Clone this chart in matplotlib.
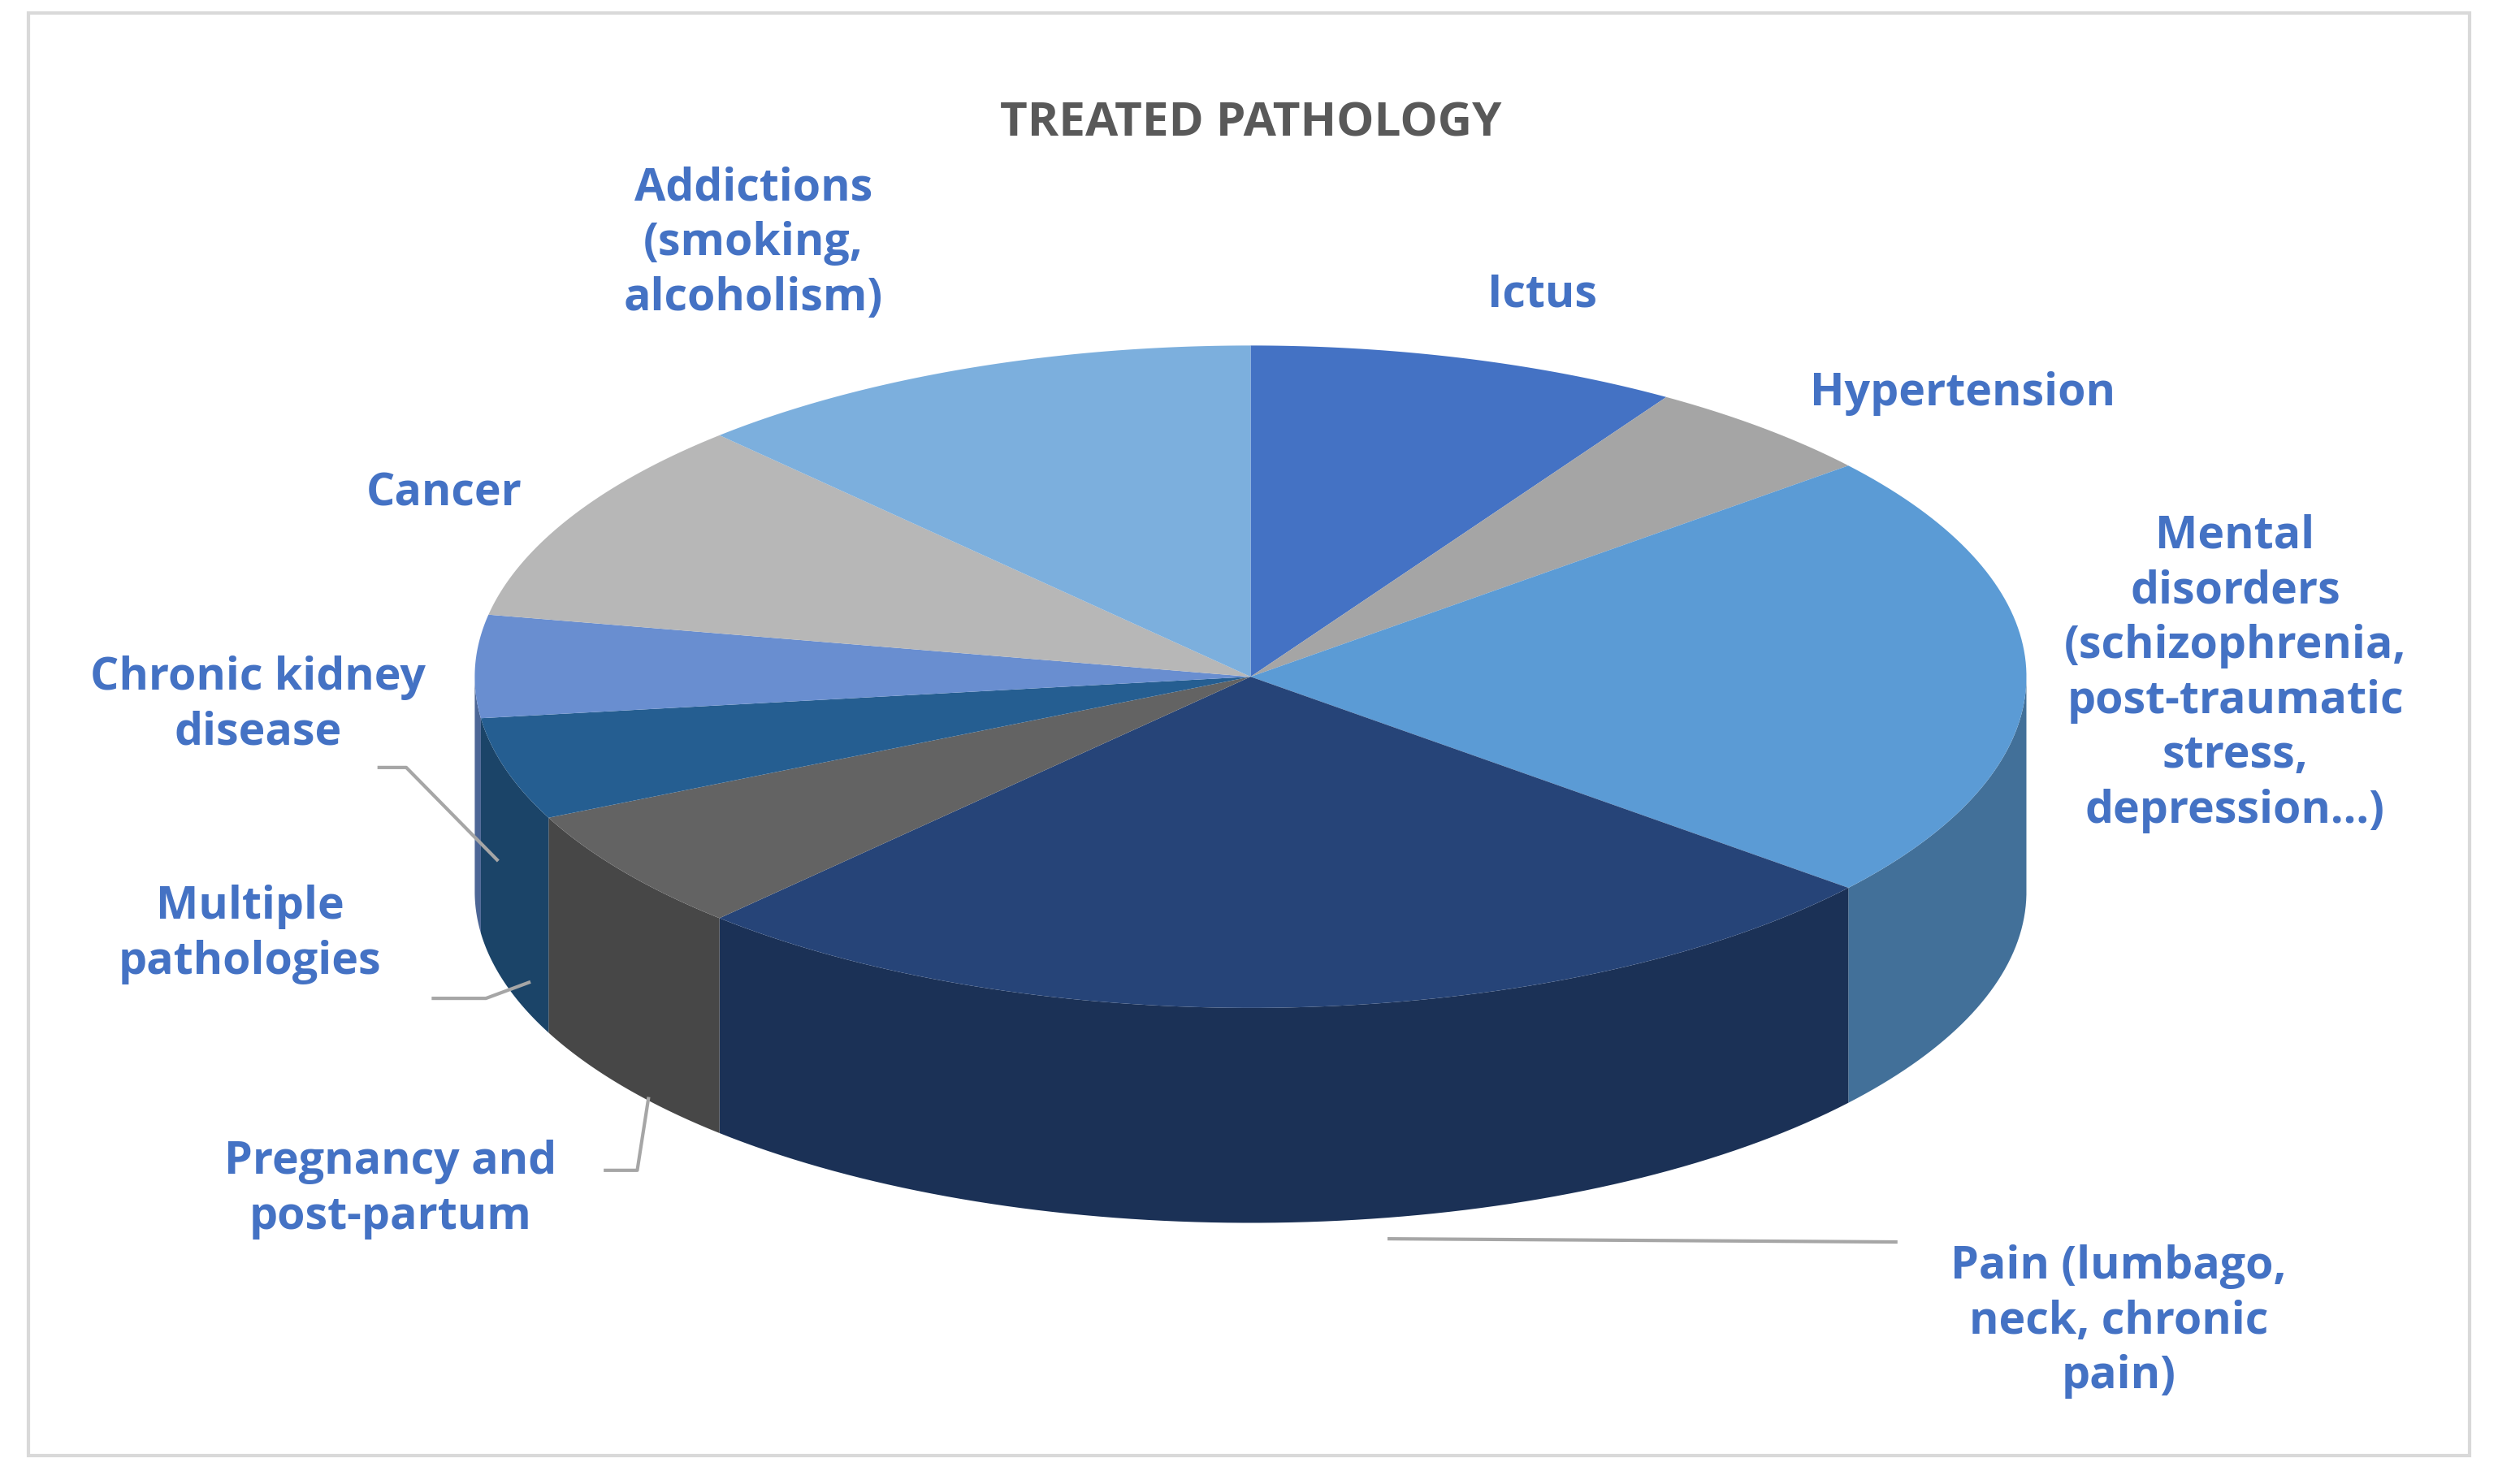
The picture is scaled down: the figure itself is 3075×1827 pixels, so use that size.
import numpy as np
import matplotlib.pyplot as plt
from matplotlib.patches import Polygon, Rectangle
from matplotlib.colors import to_rgb

# data (share of treated pathologies, %)
labels = ["Ictus", "Hypertension",
          "Mental\ndisorders\n(schizophrenia,\npost-traumatic\nstress,\ndepression...)",
          "Pain (lumbago,\nneck, chronic\npain)", "Pregnancy and\npost-partum",
          "Multiple\npathologies", "Chronic kidney\ndisease", "Cancer",
          "Addictions\n(smoking,\nalcoholism)"]
values = [9, 5, 22, 26, 6, 5, 5, 10, 12]
colors = ["#4472C4", "#A5A5A5", "#5B9BD5", "#264478", "#636363",
          "#255E91", "#698ED0", "#B7B7B7", "#7CAFDD"]

fig = plt.figure(figsize=(15.375, 9.135), dpi=200)
ax = fig.add_axes([0, 0, 1, 1])
ax.set_xlim(0, 1568)
ax.set_ylim(932, 0)
ax.axis("off")
ax.add_patch(Rectangle((18, 8), 1532, 906, fill=False, ec="#D9D9D9", lw=1.5))

cx, cy, rx, ry, depth = 785, 425, 487, 208, 135

def pt(a):
    return cx + rx * np.cos(np.radians(a)), cy - ry * np.sin(np.radians(a))

fracs = np.array(values) / sum(values)
bounds = 90 - 360 * np.concatenate([[0], np.cumsum(fracs)])

# sides: only the front half (angle below horizontal)
for i, c in enumerate(colors):
    seg = np.linspace(bounds[i + 1], bounds[i], 80)
    segn = ((seg + 180) % 360) - 180
    mask = segn < 0
    if not mask.any():
        continue
    xs, ys = pt(segn[mask])
    verts = list(zip(xs, ys)) + list(zip(xs[::-1], ys[::-1] + depth))
    dark = tuple(v * 0.72 for v in to_rgb(c))
    ax.add_patch(Polygon(verts, closed=True, fc=dark, ec="none", zorder=2))

# top face
for i, c in enumerate(colors):
    xs, ys = pt(np.linspace(bounds[i], bounds[i + 1], 80))
    verts = [(cx, cy)] + list(zip(xs, ys))
    ax.add_patch(Polygon(verts, closed=True, fc=c, ec="none", zorder=3))

ax.text(785, 78, "TREATED PATHOLOGY", ha="center", va="center", fontsize=21,
        fontweight="bold", color="#595959", family="Open Sans")

lab_pos = [(968, 185), (1232, 247), (1403, 423), (1330, 830), (245, 747),
           (157, 587), (162, 443), (279, 310), (473, 153)]
for t, (x, y) in zip(labels, lab_pos):
    ax.text(x, y, t, ha="center", va="center", fontsize=20, fontweight="bold",
            color="#4472C4", family="Open Sans", linespacing=1.3)

lc = "#A6A6A6"
ax.plot([872, 1190], [778, 780], color=lc, lw=1.5)
ax.plot([380, 400, 407], [735, 735, 690], color=lc, lw=1.5)
ax.plot([272, 305, 332], [627, 627, 617], color=lc, lw=1.5)
ax.plot([238, 255, 312], [482, 482, 540], color=lc, lw=1.5)

fig.savefig("out.png", dpi=200)
